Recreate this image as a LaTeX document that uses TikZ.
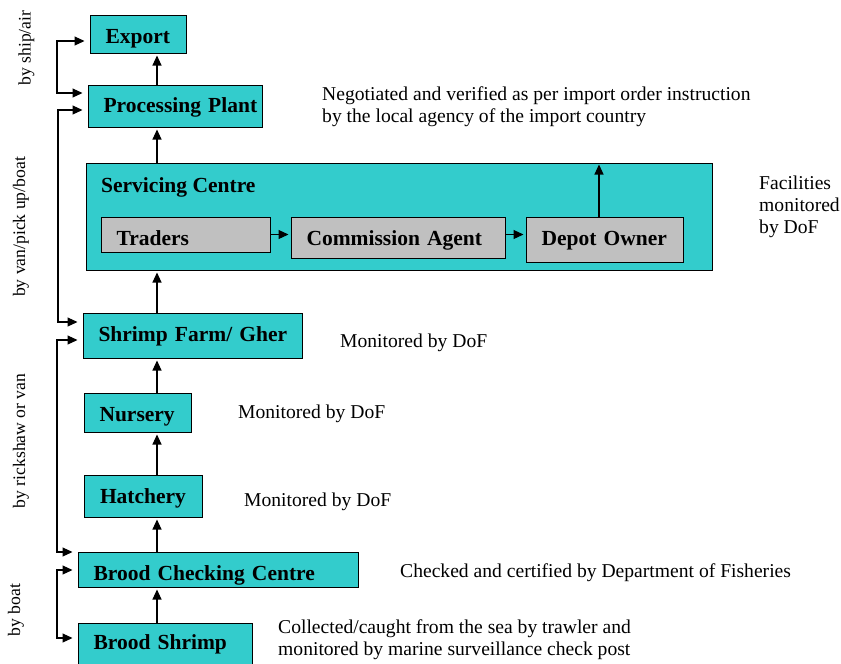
\documentclass[tikz,border=0pt]{standalone}
\usepackage{fontspec}
\setmainfont{Liberation Serif}
\usetikzlibrary{arrows.meta}
\definecolor{aquafill}{HTML}{33CCCC}
\definecolor{greyfill}{HTML}{C0C0C0}

\begin{document}
\begin{tikzpicture}[x=1pt,y=-1pt]
	\tikzstyle{every node}=[inner sep=0pt]
	\tikzstyle{boxfont}=[font=\fontsize{21.5}{24}\selectfont\bfseries]
	\tikzstyle{box}=[draw=black, line width=1.0pt, fill=aquafill, inner xsep=15.5pt, align=left, boxfont]
	\tikzstyle{subbox}=[box, fill=greyfill]
	\tikzstyle{note}=[align=left, font=\fontsize{19.6}{22}\selectfont]
	\tikzstyle{tag}=[rotate=90, font=\fontsize{17.6}{20}\selectfont]
	\tikzstyle{flow}=[line width=1.1pt, -{Triangle[length=10pt,width=9pt]}, shorten >=2pt]
	\tikzstyle{route}=[line width=1.1pt, {Triangle[length=10pt,width=9pt]}-{Triangle[length=10pt,width=9pt]}, shorten <=5pt, shorten >=5pt]

	\useasboundingbox (0.0000,0.0000) rectangle (841.0000,664.0000);

	%%boxes
	\node [box, text width=65pt, minimum height=38pt, text height=19pt, text depth=1pt]  (export) at (138.0000,34.0000) {Export};
	\node [box, text width=143pt, minimum height=42pt, text height=16pt, text depth=4pt]  (plant) at (175.0000,106.0000) {Processing~Plant};
	\node [box, minimum width=626pt, minimum height=107pt]  (servicing) at (399.0000,216.5000) {};
	\node [boxfont, anchor=base west]  (servicinglabel) at (101.0000,192.0000) {Servicing Centre};
	\node [subbox, text width=138pt, minimum height=35pt, text height=21pt, text depth=0pt]  (traders) at (185.5000,234.5000) {Traders};
	\node [subbox, text width=183pt, minimum height=41pt, text height=17.5pt, text depth=2.5pt]  (agent) at (398.0000,237.5000) {Commission~Agent};
	\node [subbox, text width=126pt, minimum height=45pt, text height=15.5pt, text depth=4.5pt]  (depot) at (604.5000,239.5000) {Depot~Owner};
	\node [box, text width=188pt, minimum height=45pt, text height=15.5pt, text depth=4.5pt]  (farm) at (192.5000,335.5000) {Shrimp~Farm/~Gher};
	\node [box, text width=76pt, minimum height=39pt, text height=18.5pt, text depth=1.5pt]  (nursery) at (137.5000,412.5000) {Nursery};
	\node [box, text width=87pt, minimum height=42pt, text height=17pt, text depth=3pt]  (hatchery) at (143.5000,496.0000) {Hatchery};
	\node [box, text width=249pt, minimum height=35pt, text height=21pt, text depth=0pt]  (checking) at (218.0000,569.5000) {Brood~Checking~Centre};
	\node [box, text width=143pt, minimum height=44pt, text height=14pt, text depth=6pt]  (brood) at (165.0000,645.0000) {Brood~Shrimp};

	%%notes
	\node [note, anchor=north west]  (negotiated) at (322.0000,86.5000) {Negotiated and verified as per import order instruction\\by the local agency of the import country};
	\node [note, anchor=north west]  (facilities) at (759.0000,175.5000) {Facilities\\monitored\\by DoF};
	\node [note, anchor=base west]  (farmnote) at (340.0000,347.0000) {Monitored by DoF};
	\node [note, anchor=base west]  (nurserynote) at (238.0000,418.5000) {Monitored by DoF};
	\node [note, anchor=base west]  (hatcherynote) at (244.0000,506.0000) {Monitored by DoF};
	\node [note, anchor=base west]  (checkingnote) at (400.0000,577.0000) {Checked and certified by Department of Fisheries};
	\node [note, anchor=north west]  (broodnote) at (278.0000,619.5000) {Collected/caught from the sea by trawler and\\monitored by marine surveillance check post};

	%%transport
	\node [tag]  (shipair) at (26.5000,48.0000) {by ship/air};
	\node [tag]  (vanboat) at (21.0000,227.0000) {by van/pick up/boat};
	\node [tag]  (rickshaw) at (21.0000,441.0000) {by rickshaw or van};
	\node [tag]  (boatlabel) at (16.0000,610.0000) {by boat};

	\coordinate (shiptop) at (57.0000,41.0000);
	\coordinate (shipbot) at (57.0000,93.0000);
	\draw [route]  (shiptop -| export.west) -- (shiptop) -- (shipbot) -- (shipbot -| plant.west);
	\coordinate (vantop) at (58.0000,110.0000);
	\coordinate (vanbot) at (58.0000,322.0000);
	\draw [route]  (vantop -| plant.west) -- (vantop) -- (vanbot) -- (vanbot -| farm.west);
	\coordinate (ricktop) at (57.0000,340.0000);
	\coordinate (rickbot) at (57.0000,552.0000);
	\draw [route]  (ricktop -| farm.west) -- (ricktop) -- (rickbot) -- (rickbot -| checking.west);
	\coordinate (boattop) at (57.0000,570.0000);
	\coordinate (boatbot) at (57.0000,638.0000);
	\draw [route]  (boattop -| checking.west) -- (boattop) -- (boatbot) -- (boatbot -| brood.west);

	%%chain
	\coordinate (spine) at (157.0000,0.0000);
	\draw [flow]  (spine |- brood.north) -- (spine |- checking.south);
	\draw [flow]  (spine |- checking.north) -- (spine |- hatchery.south);
	\draw [flow]  (spine |- hatchery.north) -- (spine |- nursery.south);
	\draw [flow]  (spine |- nursery.north) -- (spine |- farm.south);
	\draw [flow]  (spine |- farm.north) -- (spine |- servicing.south);
	\draw [flow]  (spine |- servicing.north) -- (spine |- plant.south);
	\draw [flow]  (spine |- plant.north) -- (spine |- export.south);
	\draw [flow]  (traders.east) -- (traders.east -| agent.west);
	\draw [flow]  (agent.east |- traders.east) -- (traders.east -| depot.west);
	\draw [flow]  ([xshift=-5.5pt]depot.north) -- ([xshift=-5.5pt]depot.north |- servicing.north);

\end{tikzpicture}
\end{document}
